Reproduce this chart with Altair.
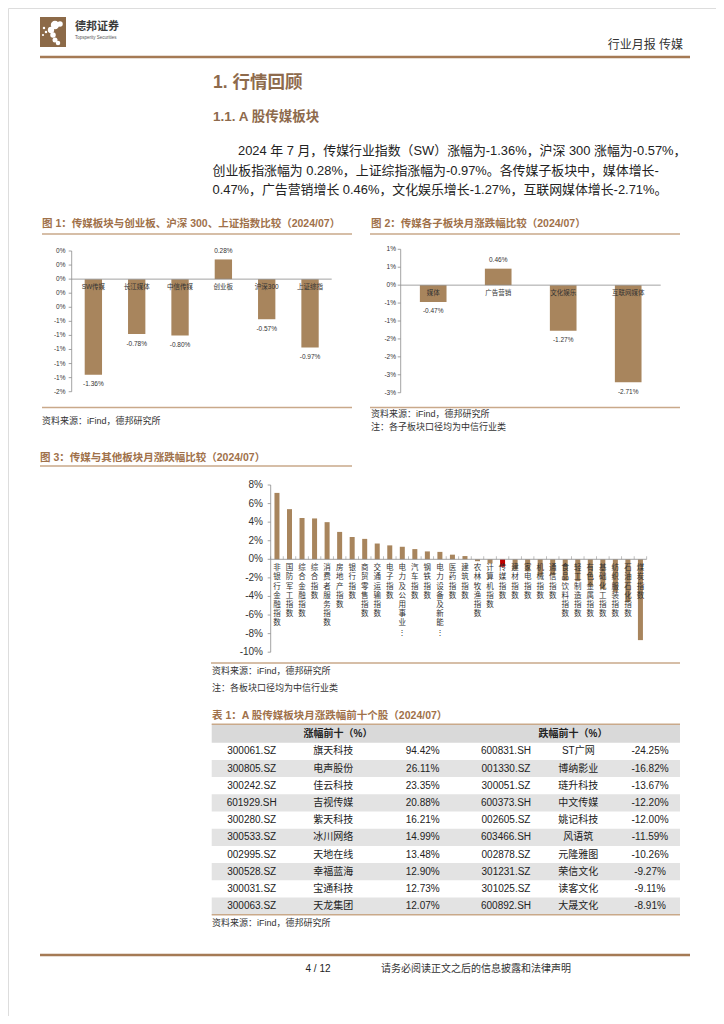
import altair as alt
import pandas as pd

OFF = 8
FONT = "Liberation Sans, Noto Sans CJK SC"
BROWN = "#A8855D"
RED = "#C00000"
TITLE_BROWN = "#A0714A"
HEAD = "#8E6A4C"
LINE_BROWN = "#C9A98A"
DARK_LINE = "#A57A55"
AXIS = "#8C8C8C"
TXT = "#222222"

# ---------------- data ----------------
fig1_cats = ["SW传媒", "长江媒体", "中信传媒", "创业板", "沪深300", "上证综指"]
fig1_vals = [-1.36, -0.78, -0.80, 0.28, -0.57, -0.97]
fig1_ticks = [0.4, 0.2, 0.0, -0.2, -0.4, -0.6, -0.8, -1.0, -1.2, -1.4, -1.6]
fig1_tick_labels = ["0%", "0%", "0%", "0%", "0%", "-1%", "-1%", "-1%", "-1%", "-1%", "-2%"]

fig2_cats = ["媒体", "广告营销", "文化娱乐", "互联网媒体"]
fig2_vals = [-0.47, 0.46, -1.27, -2.71]
fig2_ticks = [1.0, 0.5, 0.0, -0.5, -1.0, -1.5, -2.0, -2.5, -3.0]
fig2_tick_labels = ["1%", "1%", "0%", "-1%", "-1%", "-2%", "-2%", "-3%", "-3%"]

fig3_cats = ["非银行金融指数", "国防军工指数", "综合金融指数", "综合指数", "消费者服务指数",
             "房地产指数", "银行指数", "商贸零售指数", "交通运输指数", "电子指数",
             "电力及公用事业指数", "汽车指数", "钢铁指数", "电力设备及新能源指数", "医药指数",
             "建筑指数", "农林牧渔指数", "计算机指数", "传媒指数", "建材指数",
             "家电指数", "机械指数", "通信指数", "食品饮料指数", "轻工制造指数",
             "有色金属指数", "基础化工指数", "纺织服装指数", "石油石化指数", "煤炭指数"]
fig3_vals = [7.15, 5.40, 4.45, 4.40, 4.00, 2.95, 2.40, 2.20, 1.70, 1.50,
             1.35, 1.10, 0.85, 0.80, 0.50, 0.35, -0.20, -0.45, -0.80, -1.10,
             -1.30, -1.75, -1.75, -2.30, -2.35, -2.90, -3.20, -3.50, -4.60, -8.70]
fig3_ticks = [8, 6, 4, 2, 0, -2, -4, -6, -8, -10]
fig3_tick_labels = ["8%", "6%", "4%", "2%", "0%", "-2%", "-4%", "-6%", "-8%", "-10%"]
fig3_highlight = "传媒指数"

up_codes = ["300061.SZ", "300805.SZ", "300242.SZ", "601929.SH", "300280.SZ",
            "300533.SZ", "002995.SZ", "300528.SZ", "300031.SZ", "300063.SZ"]
up_names = ["旗天科技", "电声股份", "佳云科技", "吉视传媒", "紫天科技",
            "冰川网络", "天地在线", "幸福蓝海", "宝通科技", "天龙集团"]
up_pcts = [94.42, 26.11, 23.35, 20.88, 16.21, 14.99, 13.48, 12.90, 12.73, 12.07]
down_codes = ["600831.SH", "001330.SZ", "300051.SZ", "600373.SH", "002605.SZ",
              "603466.SH", "002878.SZ", "301231.SZ", "301025.SZ", "600892.SH"]
down_names = ["ST广网", "博纳影业", "琏升科技", "中文传媒", "姚记科技",
              "风语筑", "元隆雅图", "荣信文化", "读客文化", "大晟文化"]
down_pcts = [-24.25, -16.82, -13.67, -12.20, -12.00, -11.59, -10.26, -9.27, -9.11, -8.91]

para = [
    "2024 年 7 月，传媒行业指数（SW）涨幅为-1.36%，沪深 300 涨幅为-0.57%，",
    "创业板指涨幅为 0.28%，上证综指涨幅为-0.97%。各传媒子板块中，媒体增长-",
    "0.47%，广告营销增长 0.46%，文化娱乐增长-1.27%，互联网媒体增长-2.71%。",
]

layers = []


# ---------------- helpers for page furniture ----------------
def texts(rows, align="left", weight="normal", baseline="middle", font=FONT):
    df = pd.DataFrame(rows, columns=["txt", "x", "y", "s", "c"])
    df["x"] = df["x"] - OFF
    df["y"] = df["y"] - OFF
    return alt.Chart(df).mark_text(align=align, baseline=baseline, fontWeight=weight, font=font).encode(
        x=alt.X("x:Q", scale=None, axis=None),
        y=alt.Y("y:Q", scale=None, axis=None),
        text="txt:N",
        size=alt.Size("s:Q", scale=None, legend=None),
        color=alt.Color("c:N", scale=None, legend=None),
    )


def rules(rows):
    df = pd.DataFrame(rows, columns=["x", "x2", "y", "y2", "c", "w"])
    for k in ["x", "x2", "y", "y2"]:
        df[k] = df[k] - OFF
    return alt.Chart(df).mark_rule().encode(
        x=alt.X("x:Q", scale=None, axis=None), x2="x2:Q",
        y=alt.Y("y:Q", scale=None, axis=None), y2="y2:Q",
        color=alt.Color("c:N", scale=None, legend=None),
        strokeWidth=alt.StrokeWidth("w:Q", scale=None, legend=None),
    )


def rects(rows):
    df = pd.DataFrame(rows, columns=["x", "x2", "y", "y2", "c"])
    for k in ["x", "x2", "y", "y2"]:
        df[k] = df[k] - OFF
    return alt.Chart(df).mark_rect().encode(
        x=alt.X("x:Q", scale=None, axis=None), x2="x2:Q",
        y=alt.Y("y:Q", scale=None, axis=None), y2="y2:Q",
        color=alt.Color("c:N", scale=None, legend=None),
    )


def dots(rows):
    df = pd.DataFrame(rows, columns=["x", "y", "s"])
    df["x"] = df["x"] - OFF
    df["y"] = df["y"] - OFF
    return alt.Chart(df).mark_circle(color="#FFFFFF", opacity=1).encode(
        x=alt.X("x:Q", scale=None, axis=None),
        y=alt.Y("y:Q", scale=None, axis=None),
        size=alt.Size("s:Q", scale=None, legend=None),
    )


# ---------------- table backgrounds (drawn first) ----------------
rows_idx = list(range(1, 11))
tdf = pd.DataFrame({
    "row": rows_idx,
    "c1": up_codes, "n1": up_names, "p1": [f"{v:.2f}%" for v in up_pcts],
    "c2": down_codes, "n2": down_names, "p2": [f"{v:.2f}%" for v in down_pcts],
})
tdf["grey"] = tdf["row"] % 2 == 0


def ty():
    return alt.Scale(domain=rows_idx, range=[742.7 - OFF, 914.7 - OFF], paddingInner=0, paddingOuter=0)


layers.append(rects([(211.7, 680, 724.3, 742.7, "#D9D9D9"),
                     (40, 66, 17, 47, "#8C6A48")]))
# stylised white leopard in the logo
layers.append(dots([(55, 25, 70), (60, 24, 30), (51, 30, 40), (53, 35, 30), (55, 40, 25),
                    (58, 43, 20), (44, 28, 6), (46, 32, 6), (43, 35, 5)]))
layers.append(alt.Chart(tdf).transform_filter("datum.grey").mark_rect(color="#E3E3E3").encode(
    x=alt.value(211.7 - OFF), x2=alt.value(680 - OFF), y=alt.Y("row:O", scale=ty(), axis=None)))

# ---------------- header / footer / headings ----------------
layers.append(texts([("德邦证券", 75, 27, 11, "#3a3a3a"),
                     ("1. 行情回顾", 213, 83, 17.5, HEAD),
                     ("1.1. A 股传媒板块", 213, 117, 13.5, HEAD),
                     ("图 1：传媒板块与创业板、沪深 300、上证指数比较（2024/07）", 42, 224, 10.5, TITLE_BROWN),
                     ("图 2：传媒各子板块月涨跌幅比较（2024/07）", 371, 224, 10.5, TITLE_BROWN),
                     ("图 3：传媒与其他板块月涨跌幅比较（2024/07）", 40, 458, 10.5, TITLE_BROWN),
                     ("表 1：A 股传媒板块月涨跌幅前十个股（2024/07）", 212, 716, 10.5, TITLE_BROWN)],
                    weight="bold"))
layers.append(texts([("Topsperity Securities", 75, 38, 4.5, "#555555"),
                     (para[0], 238, 151, 12.9, TXT),
                     (para[1], 212.5, 171, 12.9, TXT),
                     (para[2], 212.5, 190, 12.9, TXT),
                     ("资料来源：iFind，德邦研究所", 42, 421, 9, "#333333"),
                     ("资料来源：iFind，德邦研究所", 371, 414, 9, "#333333"),
                     ("注：各子板块口径均为中信行业类", 371, 427, 9, "#333333"),
                     ("资料来源：iFind，德邦研究所", 212, 671, 9, "#333333"),
                     ("注：各板块口径均为中信行业类", 212, 688, 9, "#333333"),
                     ("资料来源：iFind，德邦研究所", 212, 923, 9, "#333333"),
                     ("请务必阅读正文之后的信息披露和法律声明", 381, 969, 10, "#333333")]))
layers.append(texts([("行业月报  传媒", 683, 45, 12, "#333333")], align="right"))
layers.append(texts([("4 / 12", 318, 969, 10, "#222222")], align="center"))
layers.append(texts([("涨幅前十（%）", 338, 733.5, 10, TXT),
                     ("跌幅前十（%）", 573, 733.5, 10, TXT)], align="center", weight="bold"))

layers.append(rules([
    (40, 690, 57, 57, DARK_LINE, 2.5),
    (42, 352, 234, 234, LINE_BROWN, 1.5),
    (370, 680, 234, 234, LINE_BROWN, 1.5),
    (42, 352, 407.5, 407.5, LINE_BROWN, 1.5),
    (370, 680, 407.5, 407.5, LINE_BROWN, 1.5),
    (40, 352, 466, 466, LINE_BROWN, 1.5),
    (211, 680, 663, 663, LINE_BROWN, 1.5),
    (40, 690, 955, 955, DARK_LINE, 2.5),
    (71.7, 71.7, 251, 391.7, AXIS, 0.8),
    (400.7, 400.7, 249.3, 392.7, AXIS, 0.8),
    (270.7, 270.7, 485, 652.2, AXIS, 0.8),
    (211.7, 680, 724.3, 724.3, LINE_BROWN, 1.5),
    (211.7, 680, 914.7, 914.7, LINE_BROWN, 1.5),
]))


# ---------------- bar figures ----------------
def bar_figure(cats, vals, ticks, tick_labels, x0, x1, ytop, ybot, dom, pad,
               fs_cat, fs_val, fs_tick, tick_x, vertical=False, highlight=None):
    def sx():
        return alt.Scale(domain=cats, range=[x0 - OFF, x1 - OFF], paddingInner=pad, paddingOuter=pad / 2)

    def sy():
        return alt.Scale(domain=dom, range=[ybot - OFF, ytop - OFF], nice=False, zero=False)

    df = pd.DataFrame({"cat": cats, "v": vals})
    df["zero"] = 0.0
    df["lab"] = [f"{v:.2f}%" for v in vals]
    if vertical:
        df["vlab"] = ["\n".join(list(c if len(c) <= 8 else c[:7] + "⋮")) for c in cats]
    X = alt.X("cat:N", scale=sx(), axis=None, sort=None)
    out = []
    if highlight:
        color = alt.condition(f"datum.cat == '{highlight}'", alt.value(RED), alt.value(BROWN))
        out.append(alt.Chart(df).mark_bar().encode(x=X, y=alt.Y("v:Q", scale=sy(), axis=None), color=color))
    else:
        out.append(alt.Chart(df).mark_bar(color=BROWN).encode(x=X, y=alt.Y("v:Q", scale=sy(), axis=None)))
    out.append(alt.Chart(pd.DataFrame({"z": [0.0]})).mark_rule(color=AXIS, strokeWidth=0.8).encode(
        x=alt.value(x0 - OFF), x2=alt.value(x1 - OFF), y=alt.Y("z:Q", scale=sy(), axis=None)))
    if vertical:
        bd = pd.DataFrame({"b": list(range(len(cats) + 1)), "z": 0.0})
        out.append(alt.Chart(bd).mark_tick(orient="vertical", size=3, thickness=0.8, color=AXIS, yOffset=-1.5).encode(
            x=alt.X("b:Q", scale=alt.Scale(domain=[0, len(cats)], range=[x0 - OFF, x1 - OFF], nice=False, zero=False),
                    axis=None),
            y=alt.Y("z:Q", scale=sy(), axis=None)))
        out.append(alt.Chart(df).mark_text(baseline="top", align="center", lineBreak="\n", lineHeight=9.2,
                                           fontSize=fs_cat, font=FONT, color="#333333", dy=5).encode(
            x=X, y=alt.Y("zero:Q", scale=sy(), axis=None), text="vlab:N"))
    else:
        out.append(alt.Chart(df).mark_text(baseline="middle", align="center", fontSize=fs_cat, font=FONT,
                                           color="#333333", dy=7.5).encode(
            x=X, y=alt.Y("zero:Q", scale=sy(), axis=None), text="cat:N"))
        out.append(alt.Chart(df).transform_filter("datum.v < 0").mark_text(
            baseline="middle", fontSize=fs_val, font=FONT, color="#333333", dy=9.5).encode(
            x=X, y=alt.Y("v:Q", scale=sy(), axis=None), text="lab:N"))
        out.append(alt.Chart(df).transform_filter("datum.v >= 0").mark_text(
            baseline="middle", fontSize=fs_val, font=FONT, color="#333333", dy=-8.5).encode(
            x=X, y=alt.Y("v:Q", scale=sy(), axis=None), text="lab:N"))
    dt = pd.DataFrame({"t": ticks, "lab": tick_labels})
    out.append(alt.Chart(dt).mark_rule(color=AXIS, strokeWidth=0.8).encode(
        x=alt.value(x0 - OFF - 3), x2=alt.value(x0 - OFF), y=alt.Y("t:Q", scale=sy(), axis=None)))
    out.append(alt.Chart(dt).mark_text(align="right", baseline="middle", fontSize=fs_tick, font=FONT,
                                       color="#333333").encode(
        x=alt.value(tick_x - OFF), y=alt.Y("t:Q", scale=sy(), axis=None), text="lab:N"))
    return out


layers += bar_figure(fig1_cats, fig1_vals, fig1_ticks, fig1_tick_labels,
                     71.7, 331.7, 251.0, 391.7, [-1.6, 0.4], 0.6, 6.5, 6.5, 6.5, 65.5)
layers += bar_figure(fig2_cats, fig2_vals, fig2_ticks, fig2_tick_labels,
                     400.7, 660.7, 249.3, 392.7, [-3.0, 1.0], 0.59, 6.5, 6.5, 6.5, 396)
layers += bar_figure(fig3_cats, fig3_vals, fig3_ticks, fig3_tick_labels,
                     270.7, 646.7, 485.0, 652.2, [-10, 8], 0.6, 7.5, 7, 10, 263,
                     vertical=True, highlight=fig3_highlight)

# ---------------- table text ----------------
for col, xc in [("c1", 251.7), ("n1", 333.3), ("p1", 422.7), ("c2", 506), ("n2", 578.3), ("p2", 650)]:
    layers.append(alt.Chart(tdf).mark_text(align="center", baseline="middle", fontSize=10, font=FONT,
                                           color=TXT).encode(
        x=alt.value(xc - OFF), y=alt.Y("row:O", scale=ty(), axis=None), text=f"{col}:N"))

chart = alt.layer(*layers).resolve_scale(
    x="independent", y="independent", color="independent", size="independent", strokeWidth="independent"
).properties(
    width=708, height=1008, autosize=alt.AutoSizeParams(type="none"), padding=0
).configure_view(stroke=None).configure(background="white")

chart.save("out.html", embed_options={"renderer": "svg", "actions": False})
